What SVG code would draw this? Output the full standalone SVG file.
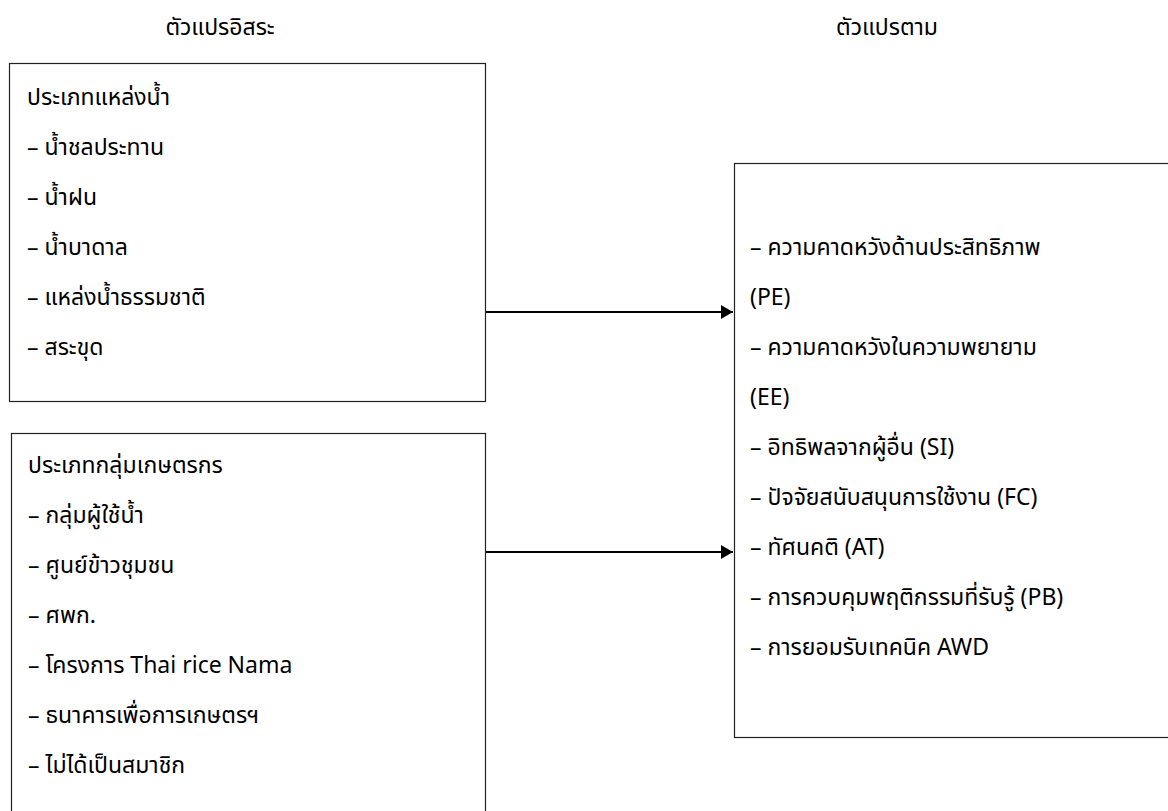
<svg xmlns="http://www.w3.org/2000/svg" width="1168" height="811" viewBox="0 0 1168 811">
<style>
.box{fill:#fff;stroke:#222;stroke-width:1.2}
.t{font-family:"Noto Sans Thai","Noto Sans","Liberation Sans",sans-serif;font-size:23px;fill:#000}
.conn{stroke:#000;stroke-width:2;fill:none}
</style>
<defs>
<marker id="ah" markerWidth="12" markerHeight="14" refX="12" refY="7" orient="auto" markerUnits="userSpaceOnUse">
<path d="M0,0 L12,7 L0,14 Z" fill="#000"/>
</marker>
</defs>
<rect width="1168" height="811" fill="#fff"/>
<g id="title-independent"><text class="t" x="220" y="35" text-anchor="middle">ตัวแปรอิสระ</text></g>
<g id="title-dependent"><text class="t" x="887" y="35" text-anchor="middle">ตัวแปรตาม</text></g>
<g id="node-water">
<rect class="box" x="9.5" y="63.5" width="476" height="338"/>
<text class="t" x="27" y="105">ประเภทแหล่งน้ำ</text>
<text class="t" x="27" y="155">– น้ำชลประทาน</text>
<text class="t" x="27" y="205">– น้ำฝน</text>
<text class="t" x="27" y="255">– น้ำบาดาล</text>
<text class="t" x="27" y="305">– แหล่งน้ำธรรมชาติ</text>
<text class="t" x="27" y="355">– สระขุด</text>
</g>
<g id="node-farmer">
<rect class="box" x="11.5" y="433.5" width="474" height="400"/>
<text class="t" x="28" y="473">ประเภทกลุ่มเกษตรกร</text>
<text class="t" x="28" y="523">– กลุ่มผู้ใช้น้ำ</text>
<text class="t" x="28" y="573">– ศูนย์ข้าวชุมชน</text>
<text class="t" x="28" y="623">– ศพก.</text>
<text class="t" x="28" y="673">– โครงการ Thai rice Nama</text>
<text class="t" x="28" y="723">– ธนาคารเพื่อการเกษตรฯ</text>
<text class="t" x="28" y="773">– ไม่ได้เป็นสมาชิก</text>
</g>
<g id="node-dependent">
<rect class="box" x="734.5" y="163.5" width="450" height="574"/>
<text class="t" x="750" y="255">– ความคาดหวังด้านประสิทธิภาพ</text>
<text class="t" x="750" y="305">(PE)</text>
<text class="t" x="750" y="355">– ความคาดหวังในความพยายาม</text>
<text class="t" x="750" y="405">(EE)</text>
<text class="t" x="750" y="455">– อิทธิพลจากผู้อื่น (SI)</text>
<text class="t" x="750" y="505">– ปัจจัยสนับสนุนการใช้งาน (FC)</text>
<text class="t" x="750" y="555">– ทัศนคติ (AT)</text>
<text class="t" x="750" y="605">– การควบคุมพฤติกรรมที่รับรู้ (PB)</text>
<text class="t" x="750" y="655">– การยอมรับเทคนิค AWD</text>
</g>
<g id="connectors">
<line class="conn" x1="486" y1="312" x2="733" y2="312" marker-end="url(#ah)"/>
<line class="conn" x1="486" y1="552" x2="733" y2="552" marker-end="url(#ah)"/>
</g>
</svg>
